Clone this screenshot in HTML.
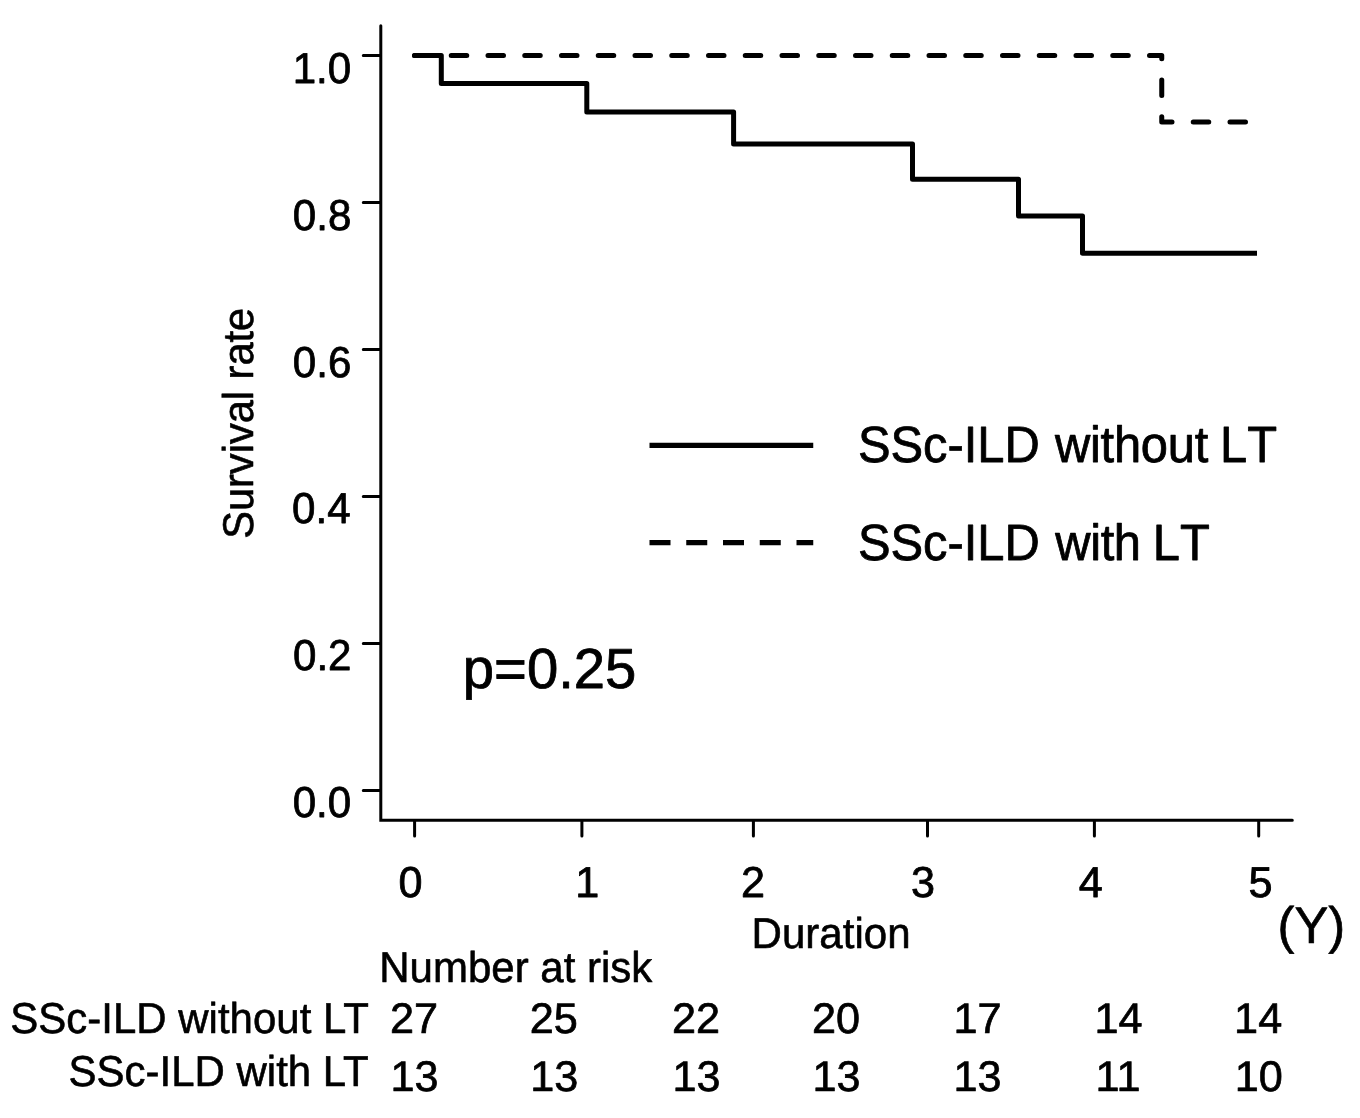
<!DOCTYPE html>
<html lang="en"><head><meta charset="utf-8"><title>Survival rate</title>
<style>html,body{margin:0;padding:0;background:#fff}svg{display:block}text{white-space:pre;text-rendering:geometricPrecision}</style></head>
<body><svg width="1360" height="1118" viewBox="0 0 1360 1118">
<rect width="1360" height="1118" fill="#fff"/>
<path d="M380.8 25.8V820.2H1292.3" fill="none" stroke="#000" stroke-width="3.0" stroke-linecap="round" stroke-linejoin="miter"/>
<path d="M363.3 55.6H380.2M363.3 202.6H380.2M363.3 349.6H380.2M363.3 496.6H380.2M363.3 643.6H380.2M363.3 790.6H380.2M414.6 820.8V835.9M581.9 820.8V835.9M753.4 820.8V835.9M927.5 820.8V835.9M1094.4 820.8V835.9M1258.7 820.8V835.9" fill="none" stroke="#000" stroke-width="3.0" stroke-linecap="round"/>
<path d="M414.5 55.5H441.3V83.6H586.8V111.9H733.6V144.1H912.5V179.3H1018.5V216H1082.5V253.3H1257" fill="none" stroke="#000" stroke-width="5" stroke-linejoin="round"/>
<circle cx="414.5" cy="55.5" r="2.5" fill="#000"/>
<path d="M414.5 55.5H1161.75V122H1257" fill="none" stroke="#000" stroke-width="5" stroke-linecap="round" stroke-linejoin="round" stroke-dasharray="15.5 21.25"/>
<path d="M649.5 445.4H813.25" stroke="#000" stroke-width="5.2" fill="none"/>
<path d="M649.5 542.6H813.25" stroke="#000" stroke-width="5.2" fill="none" stroke-dasharray="21 15.75"/>
<g font-family="'Liberation Sans', sans-serif" fill="#000" stroke="#000" stroke-linejoin="round">
<text id="y10" transform="translate(292.63 83.00) scale(0.9750 1)" font-size="43.20" stroke-width="0.8">1.0</text>
<text id="y08" transform="translate(292.80 230.00) scale(0.9750 1)" font-size="43.20" stroke-width="0.8">0.8</text>
<text id="y06" transform="translate(292.82 377.00) scale(0.9750 1)" font-size="43.20" stroke-width="0.8">0.6</text>
<text id="y04" transform="translate(292.06 523.00) scale(0.9750 1)" font-size="43.20" stroke-width="0.8">0.4</text>
<text id="y02" transform="translate(292.97 670.00) scale(0.9750 1)" font-size="43.20" stroke-width="0.8">0.2</text>
<text id="y00" transform="translate(292.63 817.00) scale(0.9750 1)" font-size="43.20" stroke-width="0.8">0.0</text>
<text id="x0" transform="translate(398.59 897.00) scale(1.0000 1)" font-size="43.20" stroke-width="0.8">0</text>
<text id="x2" transform="translate(741.12 897.00) scale(1.0000 1)" font-size="43.20" stroke-width="0.8">2</text>
<text id="x3" transform="translate(910.97 897.00) scale(1.0000 1)" font-size="43.20" stroke-width="0.8">3</text>
<text id="x4" transform="translate(1078.85 897.00) scale(1.0000 1)" font-size="43.20" stroke-width="0.8">4</text>
<text id="x5" transform="translate(1248.56 897.00) scale(1.0000 1)" font-size="43.20" stroke-width="0.8">5</text>
<text id="x1" transform="translate(575.20 897.00) scale(1.0000 1)" font-size="43.20" stroke-width="0.8">1</text>
<text id="ylab" transform="translate(253.40 538.85) rotate(-90) scale(0.9670 1)" font-size="43.00" stroke-width="0.6">Survival rate</text>
<text id="xlab" transform="translate(751.60 948.00) scale(0.9780 1)" font-size="43.00" stroke-width="0.6">Duration</text>
<text id="yunit" transform="translate(1277.61 943.00) scale(0.9860 1)" font-size="51.40" stroke-width="0.7">(Y)</text>
<text id="leg1" transform="translate(857.88 462.00) scale(0.9580 1)" font-size="51.00" stroke-width="0.8" style="font-kerning:none">SSc-ILD<tspan dx="1.88" letter-spacing="-0.26"> without</tspan><tspan dx="-1.57"> LT</tspan></text>
<text id="leg2" transform="translate(857.88 560.00) scale(0.9580 1)" font-size="51.00" stroke-width="0.8" style="font-kerning:none">SSc-ILD<tspan dx="2.30" letter-spacing="-0.37"> with</tspan><tspan dx="-1.51"> LT</tspan></text>
<text id="pval" transform="translate(462.85 688.00) scale(0.9950 1)" font-size="56.50" stroke-width="0.8">p=0.25</text>
<text id="nar" transform="translate(379.24 982.00) scale(0.9770 1)" font-size="43.00" stroke-width="0.6">Number at risk</text>
<text id="row1" transform="translate(10.34 1033.00) scale(0.9720 1)" font-size="43.20" stroke-width="0.6">SSc-ILD without LT</text>
<text id="row2" transform="translate(68.58 1086.00) scale(0.9720 1)" font-size="43.20" stroke-width="0.6">SSc-ILD with LT</text>
<text id="n1_0" transform="translate(390.00 1033.00) scale(1.0080 1)" font-size="42.90" stroke-width="0.7">27</text>
<text id="n1_1" transform="translate(529.70 1033.00) scale(1.0080 1)" font-size="42.90" stroke-width="0.7">25</text>
<text id="n1_2" transform="translate(672.00 1033.00) scale(1.0080 1)" font-size="42.90" stroke-width="0.7">22</text>
<text id="n1_3" transform="translate(811.90 1033.00) scale(1.0080 1)" font-size="42.90" stroke-width="0.7">20</text>
<text id="n1_4" transform="translate(953.40 1033.00) scale(1.0080 1)" font-size="42.90" stroke-width="0.7">17</text>
<text id="n1_5" transform="translate(1094.40 1033.00) scale(1.0080 1)" font-size="42.90" stroke-width="0.7">14</text>
<text id="n1_6" transform="translate(1234.10 1033.00) scale(1.0080 1)" font-size="42.90" stroke-width="0.7">14</text>
<text id="n2_0" transform="translate(390.50 1091.00) scale(1.0080 1)" font-size="42.90" stroke-width="0.7">13</text>
<text id="n2_1" transform="translate(530.20 1091.00) scale(1.0080 1)" font-size="42.90" stroke-width="0.7">13</text>
<text id="n2_2" transform="translate(672.50 1091.00) scale(1.0080 1)" font-size="42.90" stroke-width="0.7">13</text>
<text id="n2_3" transform="translate(812.40 1091.00) scale(1.0080 1)" font-size="42.90" stroke-width="0.7">13</text>
<text id="n2_4" transform="translate(953.40 1091.00) scale(1.0080 1)" font-size="42.90" stroke-width="0.7">13</text>
<text id="n2_5" transform="translate(1095.60 1091.00) scale(1.0080 1)" font-size="42.90" stroke-width="0.7">11</text>
<text id="n2_6" transform="translate(1234.80 1091.00) scale(1.0080 1)" font-size="42.90" stroke-width="0.7">10</text>
</g>
</svg></body></html>
